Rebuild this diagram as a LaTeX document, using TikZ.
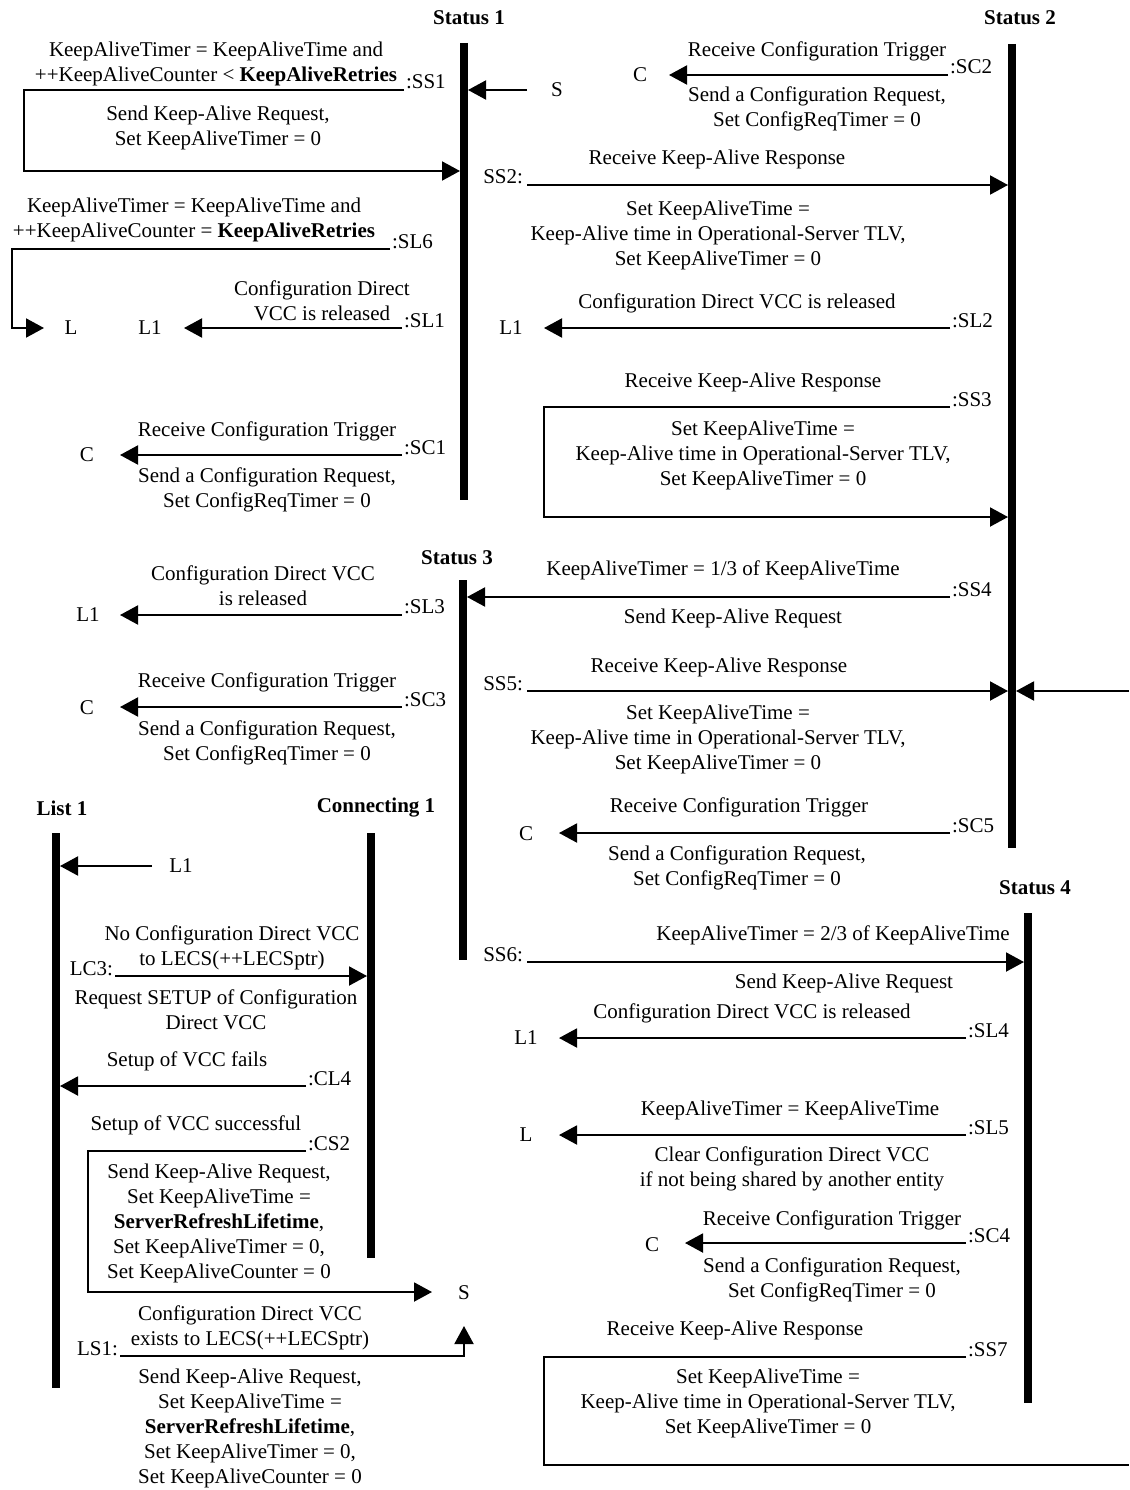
\documentclass[tikz,border=0pt]{standalone}
\usepackage{fontspec}
\setmainfont{Liberation Serif}
\usetikzlibrary{arrows.meta}
\begin{document}
\begin{tikzpicture}[x=1pt,y=-1pt,
  txt/.style={inner sep=0pt,outer sep=0pt,align=center,font=\fontsize{21}{25}\selectfont},
  head/.style={inner sep=0pt,outer sep=0pt,font=\fontsize{21}{25}\selectfont\bfseries},
  tag/.style={inner sep=0pt,outer sep=0pt,font=\fontsize{21}{25}\selectfont},
  life/.style={line width=8pt},
  msg/.style={line width=2pt,-{Triangle[length=18pt,width=19pt]}},
  wire/.style={line width=2pt},
]
\useasboundingbox (0,0) rectangle (1129,1490);
\fill[white] (0,0) rectangle (1129,1490);

% ---------- state headers and lifelines
\node[head] (h1) at (469,18) {Status 1};
\node[head] (h2) at (1020,18) {Status 2};
\node[head] (h3) at (457,558) {Status 3};
\node[head] (h4) at (1035,888) {Status 4};
\node[head] (h5) at (62,808) {List 1};
\node[head] (h6) at (376,808) {Connecting 1};

\coordinate (s1a) at (464,43);  \coordinate (s1b) at (464,500);
\coordinate (s2a) at (1012,44); \coordinate (s2b) at (1012,848);
\coordinate (s3a) at (463,580); \coordinate (s3b) at (463,960);
\coordinate (s4a) at (1028,913);\coordinate (s4b) at (1028,1403);
\coordinate (lia) at (56,833);  \coordinate (lib) at (56,1388);
\coordinate (coa) at (371,833); \coordinate (cob) at (371,1258);
\draw[life] (s1a) -- (s1b);
\draw[life] (s2a) -- (s2b);
\draw[life] (s3a) -- (s3b);
\draw[life] (s4a) -- (s4b);
\draw[life] (lia) -- (lib);
\draw[life] (coa) -- (cob);

% ---------- Status 1 section
% SS1 loop
\node[txt] (tss1a) at (216,64) {KeepAliveTimer = KeepAliveTime and\\++KeepAliveCounter < \textbf{KeepAliveRetries}};
\node[tag,anchor=base west] (kss1) at (406,89) {:SS1};
\node[txt] (tss1b) at (218,128) {Send Keep-Alive Request,\\Set KeepAliveTimer = 0};
\coordinate (ss1a) at (404,90); \coordinate (ss1b) at (24,90);
\coordinate (ss1c) at (24,171); \coordinate (ss1d) at (460,171);
\draw[msg] (ss1a) -- (ss1b) -- (ss1c) -- (ss1d);

% entry S
\node[tag] (nS1) at (557,90) {S};
\coordinate (sin) at (527,90); \coordinate (sinb) at (468,90);
\draw[msg] (sin) -- (sinb);

% SL6 loop to L
\node[txt] (tsl6) at (194,220) {KeepAliveTimer = KeepAliveTime and\\++KeepAliveCounter = \textbf{KeepAliveRetries}};
\node[tag,anchor=base west] (ksl6) at (392,248) {:SL6};
\node[tag] (nL1) at (71,328) {L};
\coordinate (sl6a) at (390,249); \coordinate (sl6b) at (12,249);
\coordinate (sl6c) at (12,328);  \coordinate (sl6d) at (44,328);
\draw[msg] (sl6a) -- (sl6b) -- (sl6c) -- (sl6d);

% SL1
\node[txt] (tsl1) at (322,301) {Configuration Direct\\VCC is released};
\node[tag,anchor=base west] (ksl1) at (404,327) {:SL1};
\node[tag] (nL11) at (150,328) {L1};
\coordinate (sl1a) at (402,328); \coordinate (sl1b) at (184,328);
\draw[msg] (sl1a) -- (sl1b);

% SC1
\node[txt] (tsc1a) at (267,431) {Receive Configuration Trigger};
\node[tag,anchor=base west] (ksc1) at (404,454) {:SC1};
\node[tag] (nC1) at (87,455) {C};
\node[txt] (tsc1b) at (267,490) {Send a Configuration Request,\\Set ConfigReqTimer = 0};
\coordinate (sc1a) at (402,455); \coordinate (sc1b) at (120,455);
\draw[msg] (sc1a) -- (sc1b);

% ---------- Status 2 section
% SC2
\node[txt] (tsc2a) at (817,51) {Receive Configuration Trigger};
\node[tag,anchor=base west] (ksc2) at (950,74) {:SC2};
\node[tag] (nC2) at (640,75) {C};
\node[txt] (tsc2b) at (817,109) {Send a Configuration Request,\\Set ConfigReqTimer = 0};
\coordinate (sc2a) at (948,75); \coordinate (sc2b) at (669,75);
\draw[msg] (sc2a) -- (sc2b);

% SS2
\node[tag,anchor=base east] (kss2) at (523,184) {SS2:};
\node[txt] (tss2a) at (717,159) {Receive Keep-Alive Response};
\node[txt] (tss2b) at (718,235) {Set KeepAliveTime =\\Keep-Alive time in Operational-Server TLV,\\Set KeepAliveTimer = 0};
\coordinate (ss2a) at (527,185); \coordinate (ss2b) at (1008,185);
\draw[msg] (ss2a) -- (ss2b);

% SL2
\node[txt] (tsl2) at (737,303) {Configuration Direct VCC is released};
\node[tag,anchor=base west] (ksl2) at (952,327) {:SL2};
\node[tag] (nL12) at (511,328) {L1};
\coordinate (sl2a) at (950,328); \coordinate (sl2b) at (544,328);
\draw[msg] (sl2a) -- (sl2b);

% SS3 loop
\node[txt] (tss3a) at (753,382) {Receive Keep-Alive Response};
\node[tag,anchor=base west] (kss3) at (952,406) {:SS3};
\node[txt] (tss3b) at (763,455) {Set KeepAliveTime =\\Keep-Alive time in Operational-Server TLV,\\Set KeepAliveTimer = 0};
\coordinate (ss3a) at (950,407); \coordinate (ss3b) at (544,407);
\coordinate (ss3c) at (544,517); \coordinate (ss3d) at (1008,517);
\draw[msg] (ss3a) -- (ss3b) -- (ss3c) -- (ss3d);

% ---------- Status 3 section
% SL3
\node[txt] (tsl3) at (263,586) {Configuration Direct VCC\\is released};
\node[tag,anchor=base west] (ksl3) at (404,613) {:SL3};
\node[tag] (nL13) at (88,615) {L1};
\coordinate (sl3a) at (402,615); \coordinate (sl3b) at (120,615);
\draw[msg] (sl3a) -- (sl3b);

% SS4
\node[txt] (tss4a) at (723,570) {KeepAliveTimer = 1/3 of KeepAliveTime};
\node[tag,anchor=base west] (kss4) at (952,596) {:SS4};
\node[txt] (tss4b) at (733,618) {Send Keep-Alive Request};
\coordinate (ss4a) at (950,597); \coordinate (ss4b) at (467,597);
\draw[msg] (ss4a) -- (ss4b);

% SC3
\node[txt] (tsc3a) at (267,682) {Receive Configuration Trigger};
\node[tag,anchor=base west] (ksc3) at (404,706) {:SC3};
\node[tag] (nC3) at (87,708) {C};
\node[txt] (tsc3b) at (267,743) {Send a Configuration Request,\\Set ConfigReqTimer = 0};
\coordinate (sc3a) at (402,707); \coordinate (sc3b) at (120,707);
\draw[msg] (sc3a) -- (sc3b);

% SS5
\node[tag,anchor=base east] (kss5) at (523,690) {SS5:};
\node[txt] (tss5a) at (719,667) {Receive Keep-Alive Response};
\node[txt] (tss5b) at (718,739) {Set KeepAliveTime =\\Keep-Alive time in Operational-Server TLV,\\Set KeepAliveTimer = 0};
\coordinate (ss5a) at (527,691); \coordinate (ss5b) at (1008,691);
\draw[msg] (ss5a) -- (ss5b);
\coordinate (ss7in) at (1129,691); \coordinate (ss7inb) at (1016,691);
\draw[msg] (ss7in) -- (ss7inb);

% SC5
\node[txt] (tsc5a) at (739,807) {Receive Configuration Trigger};
\node[tag,anchor=base west] (ksc5) at (952,832) {:SC5};
\node[tag] (nC5) at (526,834) {C};
\node[txt] (tsc5b) at (737,868) {Send a Configuration Request,\\Set ConfigReqTimer = 0};
\coordinate (sc5a) at (950,833); \coordinate (sc5b) at (559,833);
\draw[msg] (sc5a) -- (sc5b);

% ---------- Status 4 section
% SS6
\node[tag,anchor=base east] (kss6) at (523,961) {SS6:};
\node[txt] (tss6a) at (833,935) {KeepAliveTimer = 2/3 of KeepAliveTime};
\node[txt] (tss6b) at (844,983) {Send Keep-Alive Request};
\coordinate (ss6a) at (527,962); \coordinate (ss6b) at (1024,962);
\draw[msg] (ss6a) -- (ss6b);

% SL4
\node[txt] (tsl4) at (752,1013) {Configuration Direct VCC is released};
\node[tag,anchor=base west] (ksl4) at (968,1037) {:SL4};
\node[tag] (nL14) at (526,1038) {L1};
\coordinate (sl4a) at (966,1038); \coordinate (sl4b) at (559,1038);
\draw[msg] (sl4a) -- (sl4b);

% SL5
\node[txt] (tsl5a) at (790,1110) {KeepAliveTimer = KeepAliveTime};
\node[tag,anchor=base west] (ksl5) at (968,1134) {:SL5};
\node[tag] (nL5) at (526,1135) {L};
\node[txt] (tsl5b) at (792,1169) {Clear Configuration Direct VCC\\if not being shared by another entity};
\coordinate (sl5a) at (966,1135); \coordinate (sl5b) at (559,1135);
\draw[msg] (sl5a) -- (sl5b);

% SC4
\node[txt] (tsc4a) at (832,1220) {Receive Configuration Trigger};
\node[tag,anchor=base west] (ksc4) at (968,1242) {:SC4};
\node[tag] (nC4) at (652,1245) {C};
\node[txt] (tsc4b) at (832,1280) {Send a Configuration Request,\\Set ConfigReqTimer = 0};
\coordinate (sc4a) at (966,1243); \coordinate (sc4b) at (685,1243);
\draw[msg] (sc4a) -- (sc4b);

% SS7 loop leaving to the right
\node[txt] (tss7a) at (735,1330) {Receive Keep-Alive Response};
\node[tag,anchor=base west] (kss7) at (968,1356) {:SS7};
\node[txt] (tss7b) at (768,1403) {Set KeepAliveTime =\\Keep-Alive time in Operational-Server TLV,\\Set KeepAliveTimer = 0};
\coordinate (ss7a) at (966,1357); \coordinate (ss7b) at (544,1357);
\coordinate (ss7c) at (544,1465); \coordinate (ss7d) at (1129,1465);
\draw[wire] (ss7a) -- (ss7b) -- (ss7c) -- (ss7d);

% ---------- List 1 / Connecting 1
\node[tag] (nL1b) at (181,866) {L1};
\coordinate (l1a) at (152,866); \coordinate (l1b) at (60,866);
\draw[msg] (l1a) -- (l1b);

% LC3
\node[txt] (tlc3a) at (232,948) {No Configuration Direct VCC\\to LECS(++LECSptr)};
\node[tag,anchor=base east] (klc3) at (113,975) {LC3:};
\node[txt] (tlc3b) at (216,1010) {Request SETUP of Configuration\\Direct VCC};
\coordinate (lc3a) at (115,976); \coordinate (lc3b) at (367,976);
\draw[msg] (lc3a) -- (lc3b);

% CL4
\node[txt] (tcl4) at (187,1061) {Setup of VCC fails};
\node[tag,anchor=base west] (kcl4) at (308,1085) {:CL4};
\coordinate (cl4a) at (306,1086); \coordinate (cl4b) at (60,1086);
\draw[msg] (cl4a) -- (cl4b);

% CS2 loop to S
\node[txt] (tcs2a) at (196,1125) {Setup of VCC successful};
\node[tag,anchor=base west] (kcs2) at (308,1150) {:CS2};
\node[txt] (tcs2b) at (219,1223) {Send Keep-Alive Request,\\Set KeepAliveTime =\\\textbf{ServerRefreshLifetime},\\Set KeepAliveTimer = 0,\\Set KeepAliveCounter = 0};
\node[tag] (nS2) at (464,1293) {S};
\coordinate (cs2a) at (306,1151); \coordinate (cs2b) at (88,1151);
\coordinate (cs2c) at (88,1292);  \coordinate (cs2d) at (432,1292);
\draw[msg] (cs2a) -- (cs2b) -- (cs2c) -- (cs2d);

% LS1
\node[tag,anchor=base east] (kls1) at (118,1355) {LS1:};
\node[txt] (tls1a) at (250,1328) {Configuration Direct VCC\\exists to LECS(++LECSptr)};
\node[txt] (tls1b) at (250,1428) {Send Keep-Alive Request,\\Set KeepAliveTime =\\\textbf{ServerRefreshLifetime},\\Set KeepAliveTimer = 0,\\Set KeepAliveCounter = 0};
\coordinate (ls1a) at (120,1356); \coordinate (ls1b) at (464,1356);
\coordinate (ls1c) at (464,1326);
\draw[msg] (ls1a) -- (ls1b) -- (ls1c);

\end{tikzpicture}
\end{document}
